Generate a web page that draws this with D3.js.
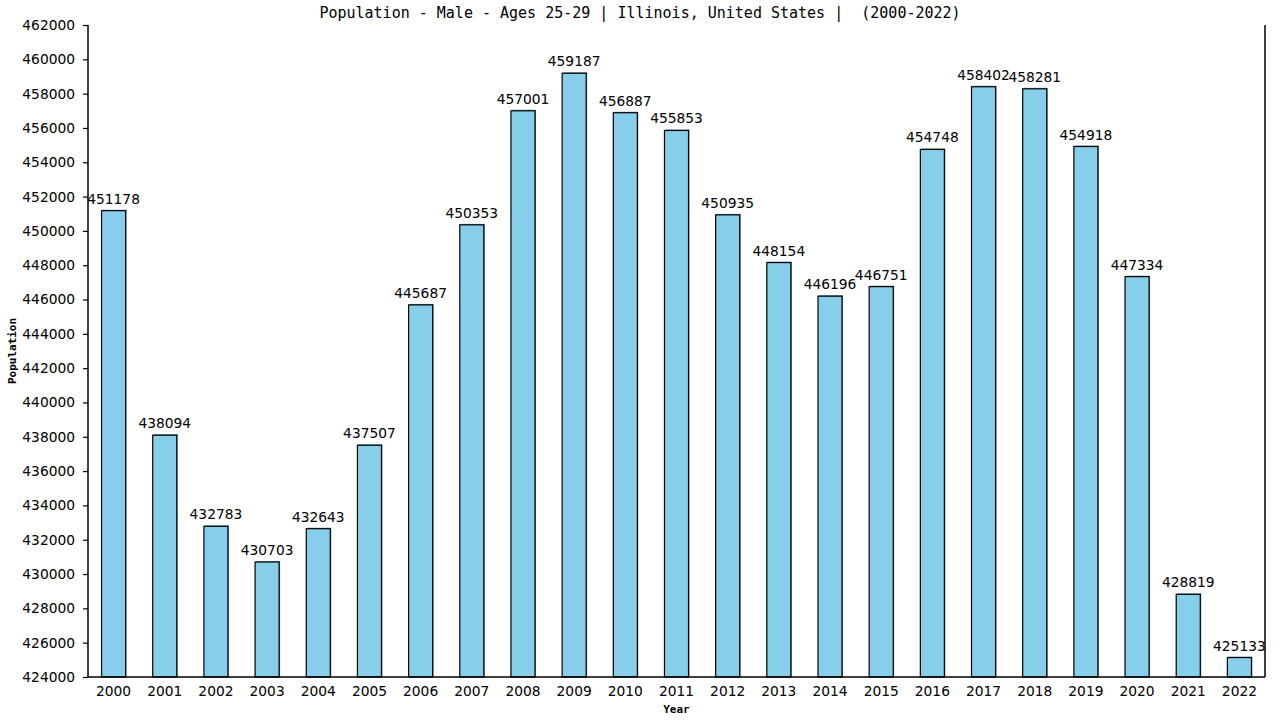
<!DOCTYPE html>
<html>
<head>
<meta charset="utf-8">
<script src="https://cdn.jsdelivr.net/npm/d3@7"></script>
<style>
  body { margin: 0; background: #fff; }
  text { fill: #000; white-space: pre; }
</style>
</head>
<body>
<div id="chart"></div>
<script>
var years = ["2000", "2001", "2002", "2003", "2004", "2005", "2006", "2007", "2008", "2009", "2010", "2011",
  "2012", "2013", "2014", "2015", "2016", "2017", "2018", "2019", "2020", "2021", "2022"];
var population = [451178, 438094, 432783, 430703, 432643, 437507, 445687, 450353, 457001, 459187, 456887, 455853,
  450935, 448154, 446196, 446751, 454748, 458402, 458281, 454918, 447334, 428819, 425133];
var yTicks = [424000, 426000, 428000, 430000, 432000, 434000, 436000, 438000, 440000, 442000, 444000, 446000,
  448000, 450000, 452000, 454000, 456000, 458000, 460000, 462000];

var width = 1280,
  height = 720,
  plotLeft = 88, plotRight = 1265, plotTop = 25, plotBottom = 677;

var svg = d3.select("#chart")
  .append("svg")
  .attr("width", width)
  .attr("height", height);

var x = d3.scaleBand()
  .domain(years)
  .range([plotLeft, plotRight])
  .paddingInner(0.53)
  .paddingOuter(0.265);

var y = d3.scaleLinear()
  .domain([424000, 462000])
  .range([plotBottom, plotTop]);

// title
svg.append("text")
  .attr("x", 640)
  .attr("y", 18)
  .attr("text-anchor", "middle")
  .style("font-family", "DejaVu Sans Mono, monospace")
  .style("font-size", "15px")
  .text("Population - Male - Ages 25-29 | Illinois, United States |  (2000-2022)");

// bars, with the little grey shadow behind them
var bars = svg.selectAll(".bar")
  .data(population)
  .enter().append("g")
  .attr("class", "bar");

bars.append("rect")
  .attr("x", function(d, i) { return x(years[i]) + 1; })
  .attr("y", function(d) { return y(d) - 1; })
  .attr("width", x.bandwidth())
  .attr("height", function(d) { return plotBottom - y(d); })
  .style("fill", "#6f98ad");

bars.append("rect")
  .attr("x", function(d, i) { return x(years[i]); })
  .attr("y", function(d) { return y(d); })
  .attr("width", x.bandwidth())
  .attr("height", function(d) { return plotBottom - y(d); })
  .style("fill", "#87ceeb")
  .style("stroke", "#000")
  .style("stroke-width", 1.2);

bars.append("text")
  .attr("x", function(d, i) { return x(years[i]) + x.bandwidth() / 2; })
  .attr("y", function(d) { return y(d) - 7; })
  .attr("text-anchor", "middle")
  .style("font-family", "DejaVu Sans, sans-serif")
  .style("font-size", "13.8px")
  .text(function(d) { return d; });

// axes
var yAxis = svg.append("g")
  .attr("transform", "translate(" + plotLeft + ",0)")
  .call(d3.axisLeft(y).tickValues(yTicks).tickSize(5).tickPadding(8).tickFormat(d3.format("d")));

var xAxis = svg.append("g")
  .attr("transform", "translate(0," + plotBottom + ")")
  .call(d3.axisBottom(x).tickSize(0).tickPadding(9));

[yAxis, xAxis].forEach(function(a) {
  a.select(".domain").attr("stroke", "#000").attr("stroke-width", 1.5);
  a.selectAll("line").attr("stroke", "#000").attr("stroke-width", 1.2);
  a.selectAll("text")
    .style("font-family", "DejaVu Sans, sans-serif")
    .style("font-size", "13.8px")
    .style("fill", "#000");
});
xAxis.select(".domain").attr("d", "M" + plotLeft + ",0H" + plotRight);
yAxis.select(".domain").attr("d", "M0," + plotTop + "V" + plotBottom);

// right border
svg.append("line")
  .attr("x1", plotRight).attr("x2", plotRight)
  .attr("y1", plotTop).attr("y2", plotBottom)
  .attr("stroke", "#000")
  .attr("stroke-width", 1.5);

// axis labels
svg.append("text")
  .attr("x", (plotLeft + plotRight) / 2)
  .attr("y", 713)
  .attr("text-anchor", "middle")
  .style("font-family", "DejaVu Sans Mono, monospace")
  .style("font-weight", "bold")
  .style("font-size", "11px")
  .text("Year");

svg.append("text")
  .attr("transform", "translate(16," + (plotTop + plotBottom) / 2 + ") rotate(-90)")
  .attr("text-anchor", "middle")
  .style("font-family", "DejaVu Sans Mono, monospace")
  .style("font-weight", "bold")
  .style("font-size", "11px")
  .text("Population");
</script>
</body>
</html>
